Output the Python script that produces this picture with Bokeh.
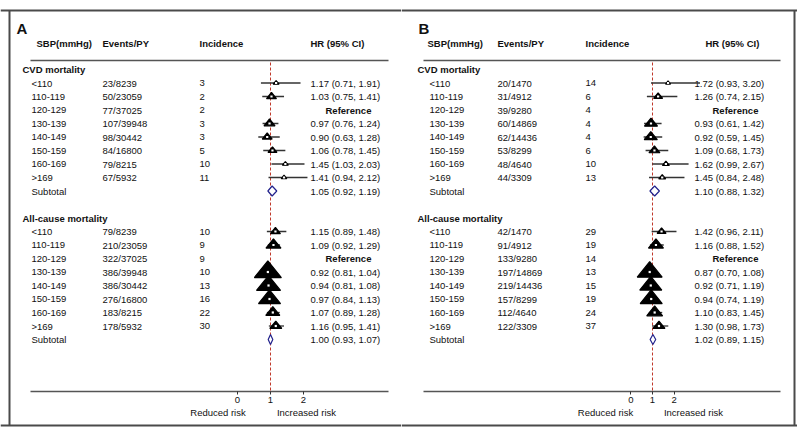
from bokeh.plotting import figure
from bokeh.models import Range1d, LinearAxis, FixedTicker
from bokeh.layouts import row
from bokeh.core.properties import value
from bokeh.embed import file_html
from bokeh.resources import INLINE

# ---------------- data ----------------
sbp_groups = ["<110", "110-119", "120-129", "130-139", "140-149", "150-159", "160-169", ">169"]
header_labels = ["SBP(mmHg)", "Events/PY", "Incidence", "HR (95% CI)"]
section_names = ["CVD mortality", "All-cause mortality"]
axis_ticks = [0, 1, 2]
risk_labels = ["Reduced risk", "Increased risk"]

# Panel A
A_cvd_events = ["23/8239", "50/23059", "77/37025", "107/39948", "98/30442", "84/16800", "79/8215", "67/5932"]
A_cvd_inc = [3, 2, 2, 3, 3, 5, 10, 11]
A_cvd_hr = [1.17, 1.03, None, 0.97, 0.90, 1.06, 1.45, 1.41]
A_cvd_lo = [0.71, 0.75, None, 0.76, 0.63, 0.78, 1.03, 0.94]
A_cvd_hi = [1.91, 1.41, None, 1.24, 1.28, 1.45, 2.03, 2.12]
A_cvd_wt = [4.0, 11.0, None, 13.5, 11.0, 9.0, 4.0, 3.4]
A_cvd_sub = [1.05, 0.92, 1.19]

A_all_events = ["79/8239", "210/23059", "322/37025", "386/39948", "386/30442", "276/16800", "183/8215", "178/5932"]
A_all_inc = [10, 9, 9, 10, 13, 16, 22, 30]
A_all_hr = [1.15, 1.09, None, 0.92, 0.94, 0.97, 1.07, 1.16]
A_all_lo = [0.89, 0.92, None, 0.81, 0.81, 0.84, 0.89, 0.95]
A_all_hi = [1.48, 1.29, None, 1.04, 1.08, 1.13, 1.28, 1.41]
A_all_wt = [11.0, 25.0, None, 81.0, 64.0, 54.0, 22.0, 16.0]
A_all_sub = [1.00, 0.93, 1.07]

# Panel B
B_cvd_events = ["20/1470", "31/4912", "39/9280", "60/14869", "62/14436", "53/8299", "48/4640", "44/3309"]
B_cvd_inc = [14, 6, 4, 4, 4, 6, 10, 13]
B_cvd_hr = [1.72, 1.26, None, 0.93, 0.92, 1.09, 1.62, 1.45]
B_cvd_lo = [0.93, 0.74, None, 0.61, 0.59, 0.68, 0.99, 0.84]
B_cvd_hi = [3.20, 2.15, None, 1.42, 1.45, 1.73, 2.67, 2.48]
B_cvd_wt = [2.8, 9.0, None, 19.0, 19.0, 13.4, 5.4, 5.4]
B_cvd_sub = [1.10, 0.88, 1.32]

B_all_events = ["42/1470", "91/4912", "133/9280", "197/14869", "219/14436", "157/8299", "112/4640", "122/3309"]
B_all_inc = [29, 19, 14, 13, 15, 19, 24, 37]
B_all_hr = [1.42, 1.16, None, 0.87, 0.92, 0.94, 1.10, 1.30]
B_all_lo = [0.96, 0.88, None, 0.70, 0.71, 0.74, 0.83, 0.98]
B_all_hi = [2.11, 1.52, None, 1.08, 1.19, 1.19, 1.45, 1.73]
B_all_wt = [9.0, 25.0, None, 69.0, 54.0, 54.0, 28.0, 16.0]
B_all_sub = [1.02, 0.89, 1.15]

# ---------------- layout / style ----------------
FONT_NAME = "Liberation Sans"
FONT = value(FONT_NAME)
TXT = "#111111"
FS = "9.5px"
ROW0_PX, ROW_PX = 69.0, 13.5
FIG_H = 430


def R(page_y):
    return (page_y - ROW0_PX) / ROW_PX


def make_panel(letter, spec, sections):
    left, width, one, unit = spec["left"], spec["width"], spec["one"], spec["unit"]

    def X(px):
        return 1.0 + (px - one) / unit

    p = figure(width=width, height=FIG_H,
               x_range=Range1d(X(left), X(left + width)),
               y_range=Range1d(R(FIG_H), R(0)),
               x_axis_type=None, y_axis_type=None,
               output_backend="svg", toolbar_location=None,
               min_border=0, outline_line_color=None,
               background_fill_color="white", border_fill_color="white")

    def txt(x, y, t, bold=False, size=FS, align="left"):
        p.text(x=x, y=y, text=t, text_font=FONT, text_font_size=size,
               text_font_style="bold" if bold else "normal",
               text_color=TXT, text_baseline="middle", text_align=align)

    # border pieces
    bc, bw = "#4a4a4a", 2
    p.segment(x0=[X(left)], y0=[R(10)], x1=[X(left + width)], y1=[R(10)], line_color=bc, line_width=bw)
    p.segment(x0=[X(left)], y0=[R(425)], x1=[X(left + width)], y1=[R(425)], line_color=bc, line_width=bw)
    bx = X(spec["border_x"])
    p.segment(x0=[bx], y0=[R(10)], x1=[bx], y1=[R(425)], line_color=bc, line_width=bw)

    # letter + headers
    txt([X(spec["letter_x"])], [R(28)], [letter], bold=True, size="15px")
    hx = [X(spec["head_lab_x"]), X(spec["ev_x"]), X(spec["inc_x"]), X(spec["hrh_x"])]
    txt(hx, [R(43)] * 4, header_labels, bold=True)

    # header and axis lines
    lx0, lx1 = X(spec["line_x0"]), X(spec["line_x1"])
    p.segment(x0=[lx0, lx0], y0=[R(60), R(391)], x1=[lx1, lx1], y1=[R(60), R(391)],
              line_color="#555555", line_width=1.5)

    # reference dashed line at HR = 1
    p.segment(x0=[1], y0=[R(62)], x1=[1], y1=[R(391)],
              line_color="#c0392b", line_width=1, line_dash="3 2")

    for name, base, events, inc, hr, lo, hi, wt, sub in sections:
        rows = [base + 1 + i for i in range(len(sbp_groups))]
        txt([X(spec["sec_x"])], [base], [name], bold=True)
        txt([X(spec["lab_x"])] * len(rows), rows, sbp_groups)
        txt([X(spec["ev_x"])] * len(rows), rows, events)
        txt([X(spec["inc_x"])] * len(rows), rows, [str(v) for v in inc])
        sub_row = base + 1 + len(sbp_groups)
        txt([X(spec["lab_x"])], [sub_row], ["Subtotal"])

        hr_text, hr_y, ref_y = [], [], []
        tri_xs, tri_ys, cx, cy, ci_x0, ci_x1, ci_y = [], [], [], [], [], [], []
        for r, h, l, u, w in zip(rows, hr, lo, hi, wt):
            if h is None:
                ref_y.append(r)
                continue
            hr_text.append(f"{h:.2f} ({l:.2f}, {u:.2f})")
            hr_y.append(r)
            ci_x0.append(l); ci_x1.append(u); ci_y.append(r)
            wpx = 3.0 * w ** 0.5
            hw = wpx / 2 / unit
            th = 0.62 * wpx / ROW_PX
            tri_xs.append([h - hw, h + hw, h])
            tri_ys.append([r + th / 3, r + th / 3, r - 2 * th / 3])
            cx.append(h); cy.append(r)
        txt([X(spec["hr_x"])] * len(hr_y), hr_y, hr_text)
        txt([X(spec["ref_x"])] * len(ref_y), ref_y, ["Reference"] * len(ref_y), bold=True)
        txt([X(spec["hr_x"])], [sub_row], [f"{sub[0]:.2f} ({sub[1]:.2f}, {sub[2]:.2f})"])

        p.segment(x0=ci_x0, y0=ci_y, x1=ci_x1, y1=ci_y, line_color="#333333", line_width=1.3)
        p.patches(xs=tri_xs, ys=tri_ys, fill_color="black", line_color="black", line_width=1.2)
        p.scatter(x=cx, y=cy, marker="square", size=2.2, fill_color="white", line_color=None)

        dh = 5 / ROW_PX
        p.patches(xs=[[sub[1], sub[0], sub[2], sub[0]]],
                  ys=[[sub_row, sub_row - dh, sub_row, sub_row + dh]],
                  fill_color="white", line_color="#22228c", line_width=1.2)

    # risk labels
    txt([X(spec["red_x"]), X(spec["inc_risk_x"])], [R(412)] * 2, risk_labels, align="center")

    ax = LinearAxis(ticker=FixedTicker(ticks=axis_ticks), fixed_location=R(391),
                    axis_line_color=None, major_tick_in=0, major_tick_out=3,
                    major_tick_line_color="#333333", minor_tick_line_color=None,
                    major_label_text_font=FONT_NAME, major_label_text_font_size=FS,
                    major_label_text_color=TXT, major_label_standoff=2)
    p.add_layout(ax, "below")
    return p


spec_A = dict(left=0, width=401, one=270, unit=33.0, border_x=9, letter_x=16, sec_x=22,
              lab_x=31, head_lab_x=36, ev_x=102, inc_x=199, hrh_x=310, hr_x=310, ref_x=325,
              line_x0=30, line_x1=388, red_x=217.5, inc_risk_x=306)
spec_B = dict(left=401, width=396, one=652, unit=21.6, border_x=794, letter_x=418, sec_x=417,
              lab_x=429, head_lab_x=427, ev_x=497, inc_x=585, hrh_x=705, hr_x=694, ref_x=712,
              line_x0=423, line_x1=780, red_x=605, inc_risk_x=693)

sections_A = [
    (section_names[0], 0, A_cvd_events, A_cvd_inc, A_cvd_hr, A_cvd_lo, A_cvd_hi, A_cvd_wt, A_cvd_sub),
    (section_names[1], 11, A_all_events, A_all_inc, A_all_hr, A_all_lo, A_all_hi, A_all_wt, A_all_sub),
]
sections_B = [
    (section_names[0], 0, B_cvd_events, B_cvd_inc, B_cvd_hr, B_cvd_lo, B_cvd_hi, B_cvd_wt, B_cvd_sub),
    (section_names[1], 11, B_all_events, B_all_inc, B_all_hr, B_all_lo, B_all_hi, B_all_wt, B_all_sub),
]

pA = make_panel("A", spec_A, sections_A)
pB = make_panel("B", spec_B, sections_B)
layout = row(pA, pB, spacing=0)

open("out.html", "w").write(file_html(layout, INLINE))
